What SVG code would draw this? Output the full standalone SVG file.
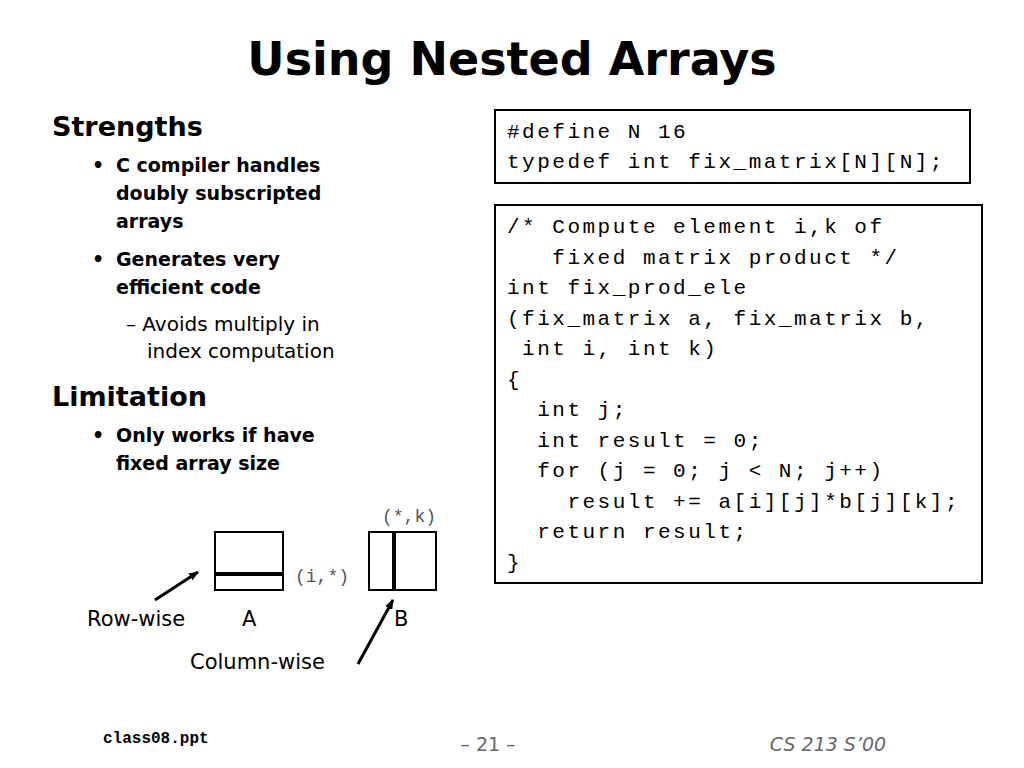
<svg xmlns="http://www.w3.org/2000/svg" width="1024" height="768" viewBox="0 0 1024 768">
<style>
.t{font-family:"DejaVu Sans",sans-serif;fill:#000}
.b{font-weight:bold}
.m{font-family:"Liberation Mono",monospace;font-size:21px;letter-spacing:2.5px;fill:#000;white-space:pre}
.g{font-family:"Liberation Mono",monospace;font-size:18px;fill:#555}
.box{fill:#fff;stroke:#000;stroke-width:2}
</style>
<defs><marker id="ah" markerWidth="10" markerHeight="8" refX="9" refY="4" orient="auto" markerUnits="userSpaceOnUse"><path d="M0,0L10,4L0,8z" fill="#000"/></marker></defs>
<rect width="1024" height="768" fill="#fff"/>
<text class="t b" x="512" y="75" font-size="46" text-anchor="middle">Using Nested Arrays</text>
<text class="t b" x="52" y="136" font-size="27">Strengths</text>
<g class="t b" font-size="19">
<text x="92" y="172">•</text><text x="116" y="172">C compiler handles</text>
<text x="116" y="200">doubly subscripted</text><text x="116" y="228">arrays</text>
<text x="92" y="266">•</text><text x="116" y="266">Generates very</text><text x="116" y="294">efficient code</text>
<text x="92" y="442">•</text><text x="116" y="442">Only works if have</text>
<text x="116" y="470">fixed array size</text>
</g>
<g class="t" font-size="20"><text x="126" y="331">– Avoids multiply in</text><text x="147" y="358">index computation</text></g>
<text class="t b" x="52" y="406" font-size="27">Limitation</text>
<g id="def"><rect class="box" x="495" y="110" width="475" height="73"/>
<text class="m" x="507" y="138">#define N 16</text><text class="m" x="507" y="168">typedef int fix_matrix[N][N];</text></g>
<g id="code"><rect class="box" x="495" y="205" width="487" height="378"/>
<g class="m">
<text x="507" y="233">/* Compute element i,k of</text>
<text x="507" y="264">&#160;&#160;&#160;fixed matrix product */</text>
<text x="507" y="294">int fix_prod_ele</text>
<text x="507" y="325">(fix_matrix a, fix_matrix b,</text>
<text x="507" y="355">&#160;int i, int k)</text>
<text x="507" y="386">{</text>
<text x="507" y="416">&#160;&#160;int j;</text>
<text x="507" y="447">&#160;&#160;int result = 0;</text>
<text x="507" y="477">&#160;&#160;for (j = 0; j &lt; N; j++)</text>
<text x="507" y="508">&#160;&#160;&#160;&#160;result += a[i][j]*b[j][k];</text>
<text x="507" y="538">&#160;&#160;return result;</text>
<text x="507" y="569">}</text>
</g></g>
<g id="A"><rect class="box" x="215" y="532" width="68" height="58"/><line x1="215" y1="574" x2="283" y2="574" stroke="#000" stroke-width="4"/></g>
<g id="B"><rect class="box" x="369" y="532" width="67" height="58"/><line x1="394" y1="532" x2="394" y2="590" stroke="#000" stroke-width="4"/></g>
<text class="g" x="295" y="582">(i,*)</text>
<text class="g" x="382" y="522">(*,k)</text>
<g class="t" font-size="21"><text x="87" y="626">Row-wise</text><text x="242" y="626">A</text><text x="394" y="626">B</text><text x="190" y="669">Column-wise</text></g>
<g id="connectors" stroke="#000" stroke-width="3" marker-end="url(#ah)">
<line x1="155" y1="600" x2="198" y2="572"/><line x1="358" y1="664" x2="393" y2="600"/></g>
<text x="103" y="743" font-size="16" font-weight="bold" font-family="Liberation Mono, monospace">class08.ppt</text>
<text class="t" x="488" y="751" font-size="19" text-anchor="middle" style="fill:#666">– 21 –</text>
<text class="t" x="828" y="751" font-size="19" font-style="italic" text-anchor="middle" style="fill:#666">CS 213 S’00</text>
</svg>
